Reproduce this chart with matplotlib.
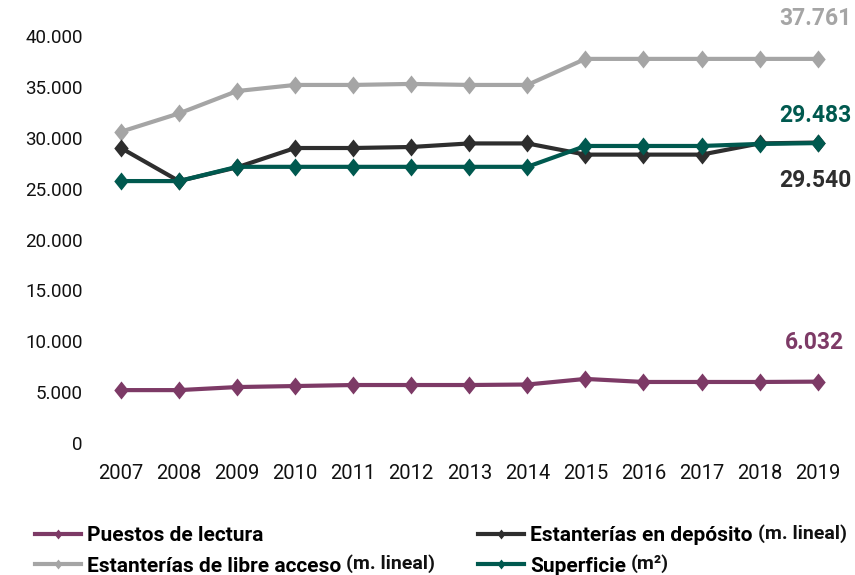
import matplotlib
matplotlib.use("Agg")
import matplotlib.pyplot as plt
from matplotlib.ticker import FuncFormatter

plt.rcParams['font.family'] = ['Roboto', 'DejaVu Sans']

# datos
years = list(range(2007, 2020))
puestos = [5200, 5200, 5500, 5600, 5700, 5700, 5700, 5750, 6300, 6000, 6000, 6000, 6032]
libre = [30600, 32400, 34600, 35200, 35200, 35300, 35200, 35200, 37761, 37761, 37761, 37761, 37761]
deposito = [29000, 25750, 27100, 29000, 29000, 29100, 29450, 29450, 28350, 28350, 28350, 29450, 29540]
superficie = [25750, 25750, 27150, 27150, 27150, 27150, 27150, 27150, 29200, 29200, 29200, 29400, 29483]
yticks = [0, 5000, 10000, 15000, 20000, 25000, 30000, 35000, 40000]

c_puestos = '#7d3a66'
c_libre = '#a5a5a5'
c_deposito = '#2e2e2e'
c_superficie = '#00594f'

diamante = [(0, 1), (0.8, 0), (0, -1), (-0.8, 0), (0, 1)]

fig = plt.figure(figsize=(8.55, 5.75), dpi=100)
ax = fig.add_axes([0.10, 0.20, 0.875, 0.765])

series = [
    (puestos, c_puestos, 'Puestos de lectura'),
    (libre, c_libre, 'Estanterías de libre acceso'),
    (deposito, c_deposito, 'Estanterías en depósito'),
    (superficie, c_superficie, 'Superficie'),
]
handles = []
for vals, col, lab in series:
    h, = ax.plot(years, vals, color=col, lw=3, marker=diamante, ms=13, mew=0,
                 label=lab, clip_on=False, zorder=3)
    handles.append(h)

ax.set_xlim(2006.39, 2019.275)
ax.set_ylim(-1671, 41572)
ax.set_xticks(years)
ax.set_yticks(yticks)
ax.yaxis.set_major_formatter(FuncFormatter(lambda v, p: f"{int(v):,}".replace(',', '.')))
ax.tick_params(length=0, colors='#111111')
ax.tick_params(axis='y', pad=2, labelsize=13.5)
ax.tick_params(axis='x', pad=3, labelsize=14.5)
for s in ax.spines.values():
    s.set_visible(False)

# etiquetas de valor final
labs = [
    (libre[-1], '37.761', c_libre, 29),
    (superficie[-1], '29.483', c_superficie, 20),
    (deposito[-1], '29.540', c_deposito, -27),
    (puestos[-1], '6.032', c_puestos, 28),
]
for v, t, col, dy in labs:
    ax.annotate(t, xy=(years[-1], v), xytext=(-2, dy), textcoords='offset points',
                ha='center', va='center', fontsize=16.5, fontweight='bold',
                color=col, annotation_clip=False)

# leyenda (dos columnas)
prop = {'weight': 'bold', 'size': 15}
kw = dict(loc='center left', frameon=False, prop=prop, handlelength=2.2,
          handletextpad=0.3, labelspacing=0.55, borderaxespad=0, borderpad=0,
          markerscale=0.55)
leg1 = fig.legend(handles[:2], [s[2] for s in series[:2]],
                  bbox_to_anchor=(0.041, 0.042), **kw)
leg2 = fig.legend(handles[2:], [s[2] for s in series[2:]],
                  bbox_to_anchor=(0.559, 0.042), **kw)

fig.canvas.draw()
r = fig.canvas.get_renderer()
textos = leg1.get_texts() + leg2.get_texts()
suffix = {1: '(m. lineal)', 2: '(m. lineal)', 3: '(m²)'}
for i, s in suffix.items():
    bb = textos[i].get_window_extent(r)
    x0, y0 = fig.transFigure.inverted().transform((bb.x1 + 5, (bb.y0 + bb.y1) / 2))
    fig.text(x0, y0 + 0.004, s, fontsize=14, fontweight='bold', color='#111111',
             ha='left', va='center')

fig.savefig('out.png', dpi=100)
